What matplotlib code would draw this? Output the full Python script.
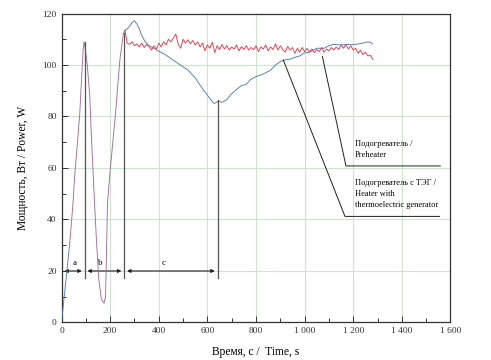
import matplotlib
matplotlib.use("Agg")
import matplotlib.pyplot as plt
from matplotlib.ticker import MultipleLocator, FuncFormatter

plt.rcParams['font.family'] = ['Liberation Serif', 'DejaVu Serif']

# shared start-up part (both heaters)
t_start = [0, 10, 20, 34, 47, 54, 64, 75, 82, 89, 93, 98, 106, 116, 123, 134, 143,
           153, 164, 175, 181, 185, 189, 199, 212, 222, 233, 240, 249, 254, 261]
p_start = [0, 9, 18, 31, 46, 57, 68, 81, 94, 106, 109, 106, 100, 88, 72, 50, 33,
           17, 9, 7.5, 10, 27, 46, 58, 71, 81, 94, 102, 108.5, 112, 113.5]

# heater with TEG (blue) after start-up
t_teg = [270, 280, 290, 300, 305, 310, 320, 330, 344, 360, 380, 407, 427, 450, 489,
         520, 550, 571, 590, 610, 625, 633, 645, 660, 680, 695, 720, 740, 760, 777,
         800, 830, 860, 880, 901, 920, 942, 960, 980, 996, 1020, 1050, 1080, 1100,
         1120, 1150, 1180, 1210, 1240, 1260, 1272, 1280]
p_teg = [114, 115, 116.5, 117.2, 116.5, 116, 114, 111.5, 109, 107.5, 106.5, 105, 104,
         102.5, 100, 98, 95, 92, 89.5, 87, 85.2, 85.2, 86, 85.5, 86.5, 88.4, 90.5, 92,
         92.5, 94.3, 95.5, 96.5, 98, 100, 101.4, 102, 102.3, 103, 103.5, 104.6, 105,
         106.5, 106.5, 107.5, 108, 107.8, 108, 108, 108.5, 109, 108.7, 108.2]

# preheater (red) after start-up
t_pre = list(range(270, 1290, 10))
p_pre = [108.5, 108.0, 109.0, 107.5, 108.2, 107.0, 108.5, 106.8, 108.0, 107.2, 105.8,
         107.5, 106.2, 108.5, 107.0, 109.0, 107.8, 110.0, 109.0, 110.5, 112.0, 108.0,
         106.5, 110.0, 108.5, 109.8, 108.2, 109.5, 107.8, 109.0, 107.0, 108.5, 105.5,
         107.8, 106.5, 108.8, 104.8, 107.5, 106.0, 108.0, 106.2, 107.5, 105.8, 107.0,
         106.2, 107.8, 105.5, 107.2, 106.0, 107.5, 105.8, 106.8, 106.0, 107.5, 105.2,
         107.0, 106.2, 107.8, 105.5, 107.0, 106.0, 108.2, 105.8, 107.5, 106.0, 105.0,
         107.2, 105.8, 106.8, 104.5, 106.5, 105.0, 106.8, 105.2, 106.5, 105.0, 106.2,
         104.8, 106.0, 105.2, 106.8, 105.0, 106.2, 105.5, 106.8, 105.8, 107.0, 106.0,
         107.8, 106.5, 108.0, 106.2, 107.5, 105.8, 106.5, 104.5, 105.8, 104.0, 105.0,
         103.5, 103.8, 102.2]

# stage markers
stage_t = [0, 95, 258, 642]
stage_top = [None, 109, 112.5, 86.5]
stage_labels = ['a', 'b', 'c']
stage_label_t = [54, 161, 420]

label_pre = 'Подогреватель /\nPreheater'
label_teg = 'Подогреватель с ТЭГ /\nHeater with\nthermoelectric generator'

fig = plt.figure(figsize=(4.91, 3.6), dpi=100)
ax = fig.add_axes([0.1253, 0.1042, 0.7922, 0.8583])

ax.plot(t_start[-1:] + t_teg, p_start[-1:] + p_teg, color='#4f7bb5', lw=0.65, zorder=3)
ax.plot(t_start[-1:] + t_pre, p_start[-1:] + p_pre, color='#d8404e', lw=0.65, zorder=4)
ax.plot(t_start[:4], p_start[:4], color='#5a7fb8', lw=0.65, zorder=4)
ax.plot(t_start[3:], p_start[3:], color='#a06e9c', lw=0.65, zorder=4)

ax.set_xlim(0, 1600)
ax.set_ylim(0, 120)
ax.xaxis.set_major_locator(MultipleLocator(200))
ax.xaxis.set_minor_locator(MultipleLocator(100))
ax.yaxis.set_major_locator(MultipleLocator(20))
ax.yaxis.set_minor_locator(MultipleLocator(10))
ax.xaxis.set_major_formatter(FuncFormatter(lambda v, p: f"{int(v):,}".replace(',', ' ')))
ax.grid(True, which='major', color='#cde5cd', lw=0.8, zorder=0)
ax.tick_params(which='both', direction='in', labelsize=6.8, colors='#333333', top=False, right=False)
ax.tick_params(which='major', length=4, width=0.7)
ax.tick_params(which='minor', length=3, width=0.7)
for s in ax.spines.values():
    s.set_color('#333333')
    s.set_linewidth(0.9)

ax.set_xlabel('Время, с /  Time, s', fontsize=8.3, labelpad=8)
ax.set_ylabel('Мощность, Вт / Power, W', fontsize=8.3, labelpad=10)

# vertical stage lines and arrows
for i in range(1, 4):
    ax.plot([stage_t[i], stage_t[i]], [17.3, stage_top[i]], color='#555555', lw=0.9, zorder=5)
for i in range(3):
    ax.annotate('', xy=(stage_t[i + 1], 20), xytext=(stage_t[i], 20),
                arrowprops=dict(arrowstyle='<|-|>', color='#222222', lw=0.8,
                                shrinkA=2, shrinkB=2, mutation_scale=5))
    ax.text(stage_label_t[i], 21.5, stage_labels[i], fontsize=6.5, ha='center', va='bottom')

# callouts
ax.plot([1073, 1170, 1558], [103.3, 60.8, 60.8], color='#222222', lw=0.7, zorder=6)
ax.plot([912, 1166, 1555], [102, 41.2, 41.2], color='#222222', lw=0.7, zorder=6)
ax.text(1208, 63.5, label_pre, fontsize=6, ha='left', va='bottom', linespacing=1.45)
ax.text(1208, 44.2, label_teg, fontsize=6, ha='left', va='bottom', linespacing=1.45)

fig.savefig('out.png', dpi=100)
